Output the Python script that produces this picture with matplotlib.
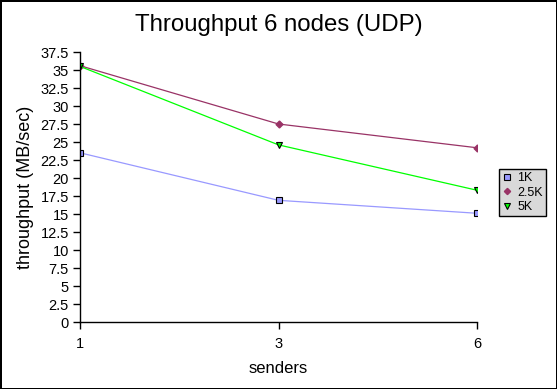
import matplotlib.pyplot as plt
import numpy as np

plt.rcParams['font.family'] = ['Liberation Sans', 'DejaVu Sans']

# data
senders = ['1', '3', '6']
k1 = [23.5, 16.9, 15.1]
k25 = [35.6, 27.5, 24.2]
k5 = [35.5, 24.6, 18.3]

fig = plt.figure(figsize=(5.57, 3.89), dpi=100, edgecolor='black', linewidth=2)
ax = fig.add_axes([80/557, 67/389, 397/557, 270/389])

x = np.arange(len(senders))
ax.plot(x, k1, color='#9999FF', lw=0.9, marker='s', ms=4.5,
        mfc='#9999FF', mec='black', mew=0.8, label='1K')
ax.plot(x, k25, color='#993366', lw=0.9, marker='D', ms=3.5,
        mfc='#993366', mec='#993366', label='2.5K')
ax.plot(x, k5, color='#00FF00', lw=0.9, marker='v', ms=5,
        mfc='#00FF00', mec='black', mew=0.8, label='5K')

ax.set_xlim(0, 2)
ax.set_ylim(0, 37.5)
ax.set_xticks(x)
ax.set_xticklabels(senders)
yt = np.arange(0, 37.6, 2.5)
ax.set_yticks(yt)
ax.set_yticklabels(['%g' % v for v in yt])
ax.tick_params(direction='out', length=5, width=1, labelsize=10.5, pad=3)
ax.tick_params(axis='x', pad=6)
for s in ['top', 'right']:
    ax.spines[s].set_visible(False)
for s in ['left', 'bottom']:
    ax.spines[s].set_linewidth(1)

ax.set_xlabel('senders', fontsize=12, labelpad=7)
ax.set_ylabel('throughput (MB/sec)', fontsize=13, labelpad=5)
fig.suptitle('Throughput 6 nodes (UDP)', fontsize=17.3, y=0.965)

leg = ax.legend(loc='center left', bbox_to_anchor=(499/557, 0.437, 45/557, 0.136),
                bbox_transform=fig.transFigure, fontsize=9, frameon=True,
                fancybox=False, edgecolor='black', facecolor='#D9D9D9', framealpha=1,
                handlelength=0.7, handletextpad=0.5, borderpad=0.25,
                labelspacing=0.2, borderaxespad=0, markerscale=0.9)
leg.get_frame().set_linewidth(1)
for h in leg.get_lines():
    h.set_linestyle('none')

fig.savefig('out.png', dpi=100)
